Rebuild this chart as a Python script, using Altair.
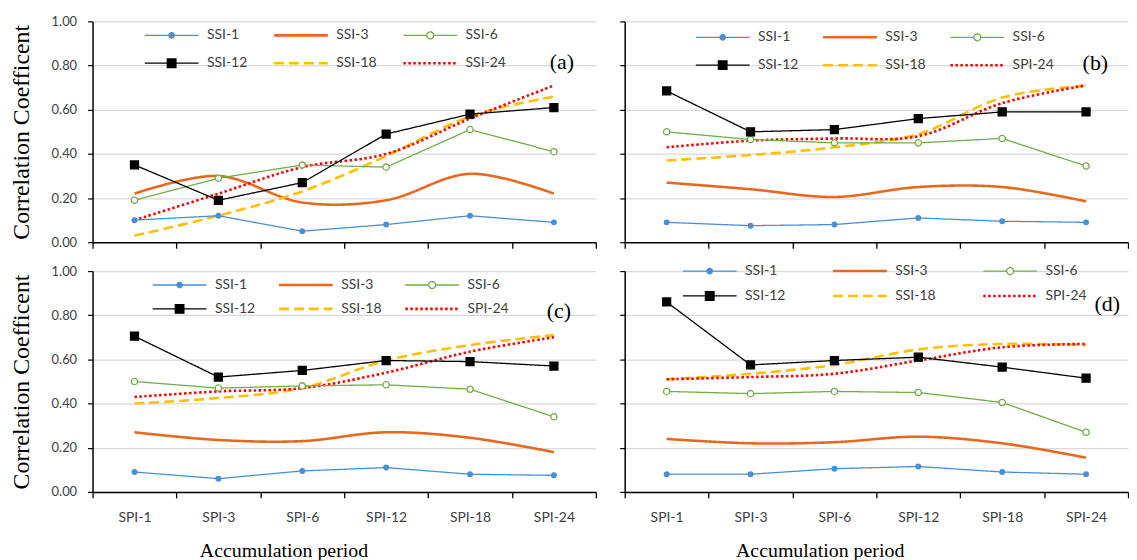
import json
import altair as alt
import pandas as pd

# ---------------- data ----------------
periods = ["SPI-1", "SPI-3", "SPI-6", "SPI-12", "SPI-18", "SPI-24"]
series = ["SSI-1", "SSI-3", "SSI-6", "SSI-12", "SSI-18", "SSI-24"]
marker_series = ["SSI-1", "SSI-6", "SSI-12"]
smooth_series = ["SSI-3", "SSI-18", "SSI-24"]

labels_a = ["SSI-1", "SSI-3", "SSI-6", "SSI-12", "SSI-18", "SSI-24"]
labels_b = ["SSI-1", "SSI-3", "SSI-6", "SSI-12", "SSI-18", "SPI-24"]
labels_c = ["SSI-1", "SSI-3", "SSI-6", "SSI-12", "SSI-18", "SPI-24"]
labels_d = ["SSI-1", "SSI-3", "SSI-6", "SSI-12", "SSI-18", "SPI-24"]

a_ssi1 = [0.10, 0.12, 0.05, 0.08, 0.12, 0.09]
a_ssi3 = [0.22, 0.30, 0.18, 0.19, 0.31, 0.22]
a_ssi6 = [0.19, 0.29, 0.35, 0.34, 0.51, 0.41]
a_ssi12 = [0.35, 0.19, 0.27, 0.49, 0.58, 0.61]
a_ssi18 = [0.03, 0.12, 0.23, 0.39, 0.57, 0.66]
a_ssi24 = [0.10, 0.22, 0.34, 0.40, 0.56, 0.71]

b_ssi1 = [0.09, 0.075, 0.08, 0.11, 0.095, 0.09]
b_ssi3 = [0.27, 0.24, 0.205, 0.25, 0.25, 0.185]
b_ssi6 = [0.50, 0.465, 0.45, 0.45, 0.47, 0.345]
b_ssi12 = [0.685, 0.50, 0.51, 0.56, 0.59, 0.59]
b_ssi18 = [0.37, 0.395, 0.43, 0.49, 0.655, 0.71]
b_ssi24 = [0.43, 0.46, 0.47, 0.48, 0.63, 0.71]

c_ssi1 = [0.09, 0.06, 0.095, 0.11, 0.08, 0.075]
c_ssi3 = [0.27, 0.235, 0.23, 0.27, 0.245, 0.18]
c_ssi6 = [0.50, 0.47, 0.48, 0.485, 0.465, 0.34]
c_ssi12 = [0.705, 0.52, 0.55, 0.595, 0.59, 0.57]
c_ssi18 = [0.40, 0.425, 0.47, 0.595, 0.665, 0.71]
c_ssi24 = [0.43, 0.455, 0.47, 0.54, 0.635, 0.70]

d_ssi1 = [0.08, 0.08, 0.105, 0.115, 0.09, 0.08]
d_ssi3 = [0.24, 0.22, 0.225, 0.25, 0.22, 0.155]
d_ssi6 = [0.455, 0.445, 0.455, 0.45, 0.405, 0.27]
d_ssi12 = [0.86, 0.575, 0.595, 0.61, 0.565, 0.515]
d_ssi18 = [0.51, 0.535, 0.575, 0.645, 0.67, 0.665]
d_ssi24 = [0.51, 0.52, 0.535, 0.595, 0.655, 0.67]

y_ticks = [0.0, 0.2, 0.4, 0.6, 0.8, 1.0]

# ---------------- styles ----------------
colors = ["#4A8FD6", "#E8681E", "#70AD47", "#000000", "#FFC000", "#FF0000"]
widths = [1.3, 2.6, 1.3, 1.3, 2.6, 2.6]
dashes = [[1, 0], [1, 0], [1, 0], [1, 0], [10, 5], [2.5, 2.5]]
sym_paths = [
    "M-1,0H1M0.1,0A0.1,0.1,0,1,1,-0.1,0A0.1,0.1,0,1,1,0.1,0Z",
    "M-1,0H1",
    "M-1,0H-0.13M0.13,0H1M0.13,0A0.13,0.13,0,1,1,-0.13,0A0.13,0.13,0,1,1,0.13,0Z",
    "M-1,0H1M-0.16,-0.16H0.16V0.16H-0.16Z",
    "M-1,0H1",
    "M-1,0H1",
]
sym_fills = ["#4A8FD6", "transparent", "white", "black", "transparent", "transparent"]
marker_shapes = ["circle", "circle", "square"]
marker_fills = ["#4A8FD6", "white", "black"]
marker_strokes = ["#4A8FD6", "#70AD47", "black"]
marker_sizes = [22, 40, 64]

W = 506
H = 222
CLIP_H = 16
SERIF = "Liberation Serif"
SANS = "Lato"

IDX = f"indexof({json.dumps(series)}, datum.value)"


def expr_list(lst):
    return alt.ExprRef(expr=f"{json.dumps(lst)}[{IDX}]")


def make_df(vals):
    rows = []
    for s, arr in zip(series, vals):
        for p, v in zip(periods, arr):
            rows.append({"series": s, "period": p, "value": v})
    return pd.DataFrame(rows)


def panel(vals, labels, tag, left, bottom, lx, ly, col_pad, row_pad, tag_dx, tag_dy, title_x):
    df = make_df(vals)
    if bottom:
        xaxis = alt.Axis(
            title="Accumulation period", titleFont=SERIF, titleFontSize=20,
            titleFontWeight="normal", titleX=title_x, titleY=59, titleBaseline="middle",
            labelAngle=0, labelFontSize=14, labelPadding=13, tickBand="extent",
            tickSize=6, grid=False, domainColor="black", domainWidth=1.5,
            tickColor="black", tickWidth=1.3,
        )
    else:
        xaxis = alt.Axis(
            title=None, labels=False, tickBand="extent", tickSize=6, grid=False,
            domainColor="black", domainWidth=1.5, tickColor="black", tickWidth=1.3,
        )
    if left:
        yaxis = alt.Axis(
            values=y_ticks, format=".2f", title="Correlation Coefficent",
            titleFont=SERIF, titleFontSize=24, titleFontWeight="normal",
            titleX=-71, titleY=H / 2, titleBaseline="middle", titleAngle=-90,
            labelPadding=11, labelFontSize=13, tickSize=5, grid=True,
            domainColor="black", domainWidth=1.5, tickColor="black", tickWidth=1.2,
        )
    else:
        yaxis = alt.Axis(
            values=y_ticks, labels=False, title=None, tickSize=5, grid=True,
            domainColor="black", domainWidth=1.5, tickColor="black", tickWidth=1.2,
        )
    x = alt.X("period:N", sort=periods,
              scale=alt.Scale(type="band", paddingInner=0, paddingOuter=0),
              bandPosition=0.5, axis=xaxis)
    y = alt.Y("value:Q", scale=alt.Scale(domain=[0, 1], nice=False), axis=yaxis)

    legend = alt.Legend(
        orient="none", legendX=lx, legendY=ly, columns=3, direction="horizontal",
        title=None, padding=0, columnPadding=col_pad, rowPadding=row_pad,
        gridAlign="all", clipHeight=CLIP_H,
        symbolSize=2916, symbolOffset=0, labelOffset=7,
        symbolType=expr_list(sym_paths),
        symbolDash=expr_list(dashes),
        symbolFillColor=expr_list(sym_fills),
        symbolStrokeWidth=expr_list(widths),
        labelExpr=f"{json.dumps(labels)}[{IDX}]",
        labelFont=SANS, labelFontSize=14, labelColor="#404040",
    )

    enc = dict(
        x=x, y=y,
        color=alt.Color("series:N", sort=series,
                        scale=alt.Scale(domain=series, range=colors), legend=legend),
        strokeDash=alt.StrokeDash("series:N", sort=series,
                                  scale=alt.Scale(domain=series, range=dashes), legend=None),
        strokeWidth=alt.StrokeWidth("series:N", sort=series,
                                    scale=alt.Scale(type="ordinal", domain=series, range=widths),
                                    legend=None),
    )
    straight = alt.Chart(df).transform_filter(
        alt.FieldOneOfPredicate(field="series", oneOf=marker_series)
    ).mark_line().encode(**enc)
    smooth = alt.Chart(df).transform_filter(
        alt.FieldOneOfPredicate(field="series", oneOf=smooth_series)
    ).mark_line(interpolate="catmull-rom").encode(**enc)
    pts = alt.Chart(df).transform_filter(
        alt.FieldOneOfPredicate(field="series", oneOf=marker_series)
    ).mark_point(opacity=1, strokeWidth=1.3).encode(
        x=x, y=y,
        shape=alt.Shape("series:N", scale=alt.Scale(domain=marker_series, range=marker_shapes), legend=None),
        fill=alt.Fill("series:N", scale=alt.Scale(domain=marker_series, range=marker_fills), legend=None),
        stroke=alt.Stroke("series:N", scale=alt.Scale(domain=marker_series, range=marker_strokes), legend=None),
        size=alt.Size("series:N", scale=alt.Scale(type="ordinal", domain=marker_series, range=marker_sizes), legend=None),
    )
    return alt.layer(smooth, straight, pts).properties(
        width=W, height=H,
        title=alt.TitleParams(tag, anchor="end", frame="group", orient="top",
                              font=SERIF, fontSize=22, fontWeight="normal",
                              color="black", baseline="middle", offset=0,
                              dx=tag_dx, dy=tag_dy),
    )


pa = panel([a_ssi1, a_ssi3, a_ssi6, a_ssi12, a_ssi18, a_ssi24], labels_a, "(a)",
           True, False, 51, 6, 25, 12, -22, 69, 192)
pb = panel([b_ssi1, b_ssi3, b_ssi6, b_ssi12, b_ssi18, b_ssi24], labels_b, "(b)",
           False, False, 70, 8, 22, 12, -20, 64, 196)
pc = panel([c_ssi1, c_ssi3, c_ssi6, c_ssi12, c_ssi18, c_ssi24], labels_c, "(c)",
           True, True, 59, 6, 21, 8, -25, 68, 192)
pd_ = panel([d_ssi1, d_ssi3, d_ssi6, d_ssi12, d_ssi18, d_ssi24], labels_d, "(d)",
            False, True, 57, -8, 45, 9, -8, 63, 196)

res = dict(color="independent", strokeDash="independent", strokeWidth="independent",
           shape="independent", fill="independent", stroke="independent", size="independent")

top = alt.hconcat(pa, pb, spacing=22).resolve_scale(**res).resolve_legend(color="independent")
bot = alt.hconcat(pc, pd_, spacing=22).resolve_scale(**res).resolve_legend(color="independent")

chart = alt.vconcat(top, bot, spacing=14).resolve_scale(**res).resolve_legend(
    color="independent"
).properties(
    padding={"left": 1, "top": 6, "right": 0, "bottom": 0},
    background="white",
).configure_view(stroke=None).configure_axis(
    labelFont=SANS, labelColor="#404040", gridColor="#D9D9D9", gridWidth=1.2,
    titleColor="black",
).configure_legend(labelFont=SANS)

chart.save("out.html", embed_options={"renderer": "svg", "actions": False})
